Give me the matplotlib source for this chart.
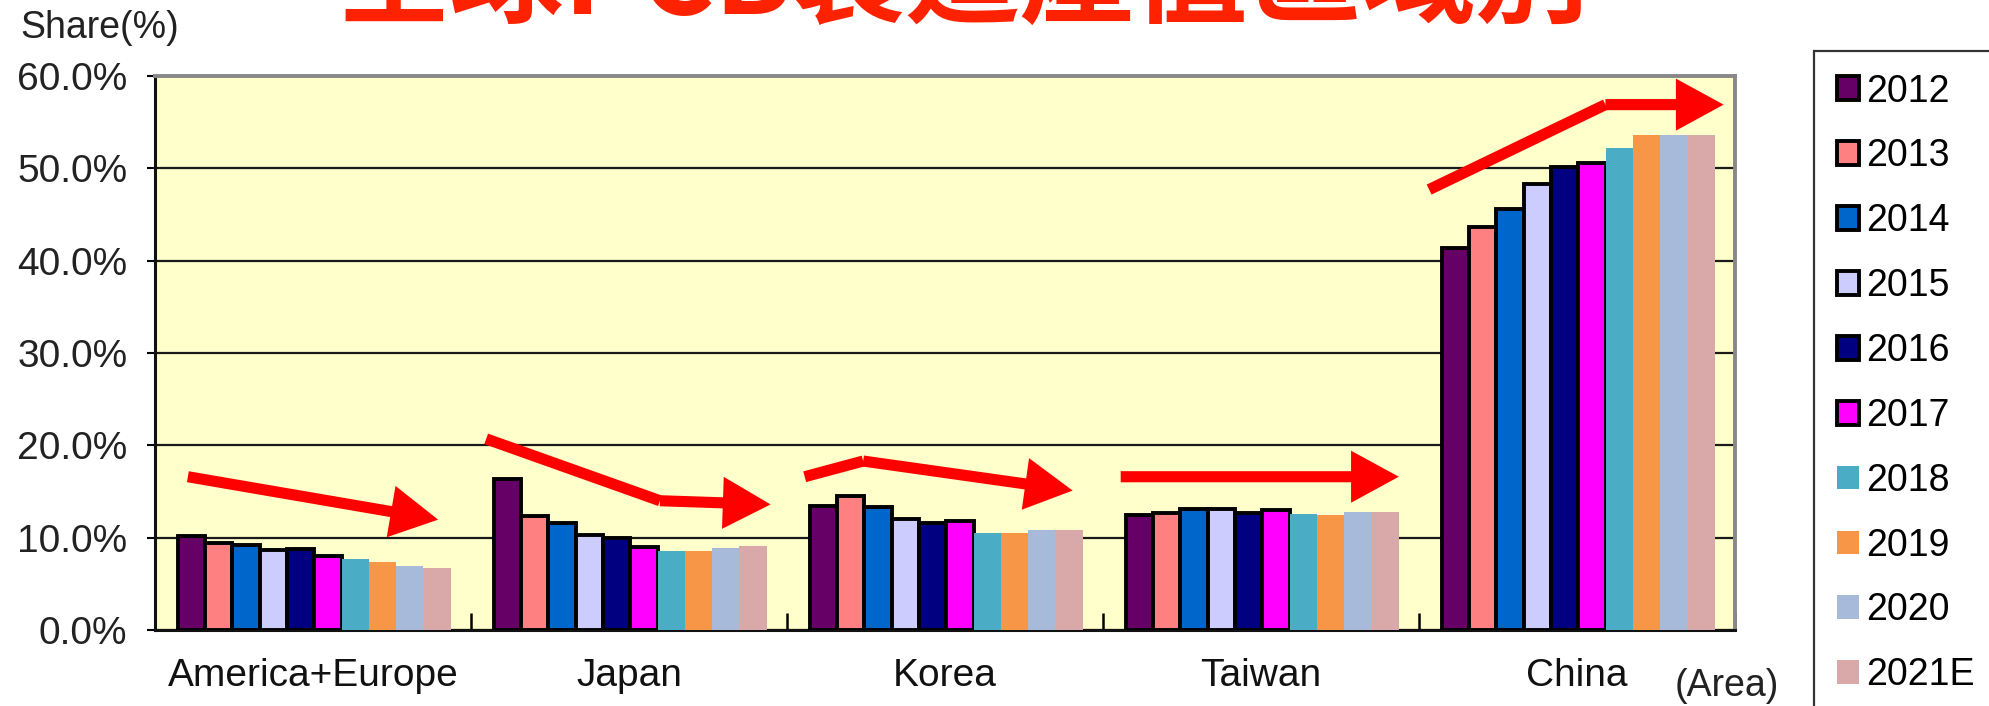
import matplotlib
matplotlib.use('Agg')
import matplotlib.pyplot as plt
import numpy as np
from matplotlib.patches import Patch

plt.rcParams['font.family'] = ['Liberation Sans', 'DejaVu Sans']

areas = ['America+Europe', 'Japan', 'Korea', 'Taiwan', 'China']
years = ['2012', '2013', '2014', '2015', '2016', '2017', '2018', '2019', '2020', '2021E']
colors = ['#660066', '#FF8080', '#0066CC', '#CCCCFF', '#000080', '#FF00FF',
          '#4BACC6', '#F79646', '#A8BADA', '#D9A9A9']
edged = [True] * 6 + [False] * 4

# share (%) per area, 2012 .. 2021E
share_america_europe = [10.2, 9.4, 9.2, 8.7, 8.8, 8.0, 7.7, 7.4, 6.95, 6.7]
share_japan = [16.3, 12.4, 11.6, 10.3, 10.0, 9.0, 8.6, 8.6, 8.85, 9.1]
share_korea = [13.4, 14.55, 13.3, 12.0, 11.6, 11.8, 10.5, 10.5, 10.8, 10.8]
share_taiwan = [12.5, 12.7, 13.1, 13.1, 12.7, 13.0, 12.6, 12.5, 12.8, 12.8]
share_china = [41.4, 43.7, 45.6, 48.3, 50.1, 50.6, 52.2, 53.6, 53.6, 53.6]

# red trend arrows (category units, %)
trend_arrows = [
    [(-0.396, 16.6), (0.396, 11.95)],
    [(0.548, 20.7), (1.098, 14.0), (1.448, 13.6)],
    [(1.556, 16.6), (1.741, 18.3), (2.404, 15.1)],
    [(2.556, 16.6), (3.436, 16.6)],
    [(3.532, 47.7), (4.090, 56.9), (4.464, 56.9)],
]

shares = np.array([share_america_europe, share_japan, share_korea,
                   share_taiwan, share_china])

W, H = 1989, 706
fig = plt.figure(figsize=(W / 100, H / 100), dpi=100)
ax = fig.add_axes([155 / W, 1 - 630 / H, (1735 - 155) / W, (630 - 76) / H])
ax.set_facecolor('#FFFFCC')

x = np.arange(len(areas))
bw = 0.0864
for j, yr in enumerate(years):
    ax.bar(x - 0.428 + bw * (j + 0.5), shares[:, j], width=bw, color=colors[j],
           edgecolor='black' if edged[j] else 'none',
           linewidth=2.8 if edged[j] else 0, zorder=3)

ax.set_xlim(-0.5, 4.5)
ax.set_ylim(0, 60)
ax.set_yticks(np.arange(0, 61, 10))
ax.set_yticklabels([f'{v:.1f}%' for v in np.arange(0, 61, 10)], fontsize=28,
                   color='#222222')
ax.yaxis.grid(True, color='#1a1a1a', linewidth=1.6, zorder=1)
ax.set_axisbelow(True)
ax.tick_params(axis='y', length=6, width=1.5, pad=14)

ax.set_xticks(x)
ax.set_xticklabels(areas, fontsize=28, color='#111111')
ax.tick_params(axis='x', length=0, pad=20)
ax.set_xticks(np.arange(-0.5, 5.0, 1.0), minor=True)
ax.tick_params(axis='x', which='minor', direction='in', length=12, width=1.8)

for s in ['left', 'bottom']:
    ax.spines[s].set_color('#111111')
    ax.spines[s].set_linewidth(2.2)
for s in ['top', 'right']:
    ax.spines[s].set_color('#888888')
    ax.spines[s].set_linewidth(2.8)

for path in trend_arrows:
    xs = [p[0] for p in path]
    ys = [p[1] for p in path]
    if len(path) > 2:
        ax.plot(xs[:-1], ys[:-1], color='#FF0000', linewidth=8,
                solid_capstyle='butt', solid_joinstyle='miter', zorder=5)
    ax.annotate('', xy=path[-1], xytext=path[-2],
                arrowprops=dict(arrowstyle='-|>,head_length=0.55,head_width=0.3',
                                color='#FF0000', lw=8, shrinkA=0, shrinkB=0,
                                mutation_scale=40, joinstyle='miter',
                                capstyle='butt'),
                zorder=5)

fig.text(20 / W, 1 - 28 / H, 'Share(%)', fontsize=27, va='center', ha='left',
         color='#222222')
fig.text(1675 / W, 1 - 686 / H, '(Area)', fontsize=27, va='center', ha='left',
         color='#222222')
fig.text(0.484, 1 - 14 / H, '全球PCB製造產值區域別', fontsize=82, color='#FF2200',
         ha='center', va='baseline', weight='bold',
         family=['Noto Sans CJK TC', 'DejaVu Sans'])

handles = [Patch(facecolor=c, edgecolor='black' if e else 'none',
                 linewidth=2.8 if e else 0, label=y)
           for c, e, y in zip(colors, edged, years)]
leg = fig.legend(handles=handles, loc='upper left',
                 bbox_to_anchor=(1814 / W, 1 - 51 / H), frameon=True,
                 fancybox=False, edgecolor='black', borderaxespad=0,
                 handlelength=0.6, handleheight=0.6, handletextpad=0.2,
                 labelspacing=0.77, borderpad=0.6, fontsize=27)
leg.get_frame().set_linewidth(1.6)

fig.savefig('out.png', dpi=100)
